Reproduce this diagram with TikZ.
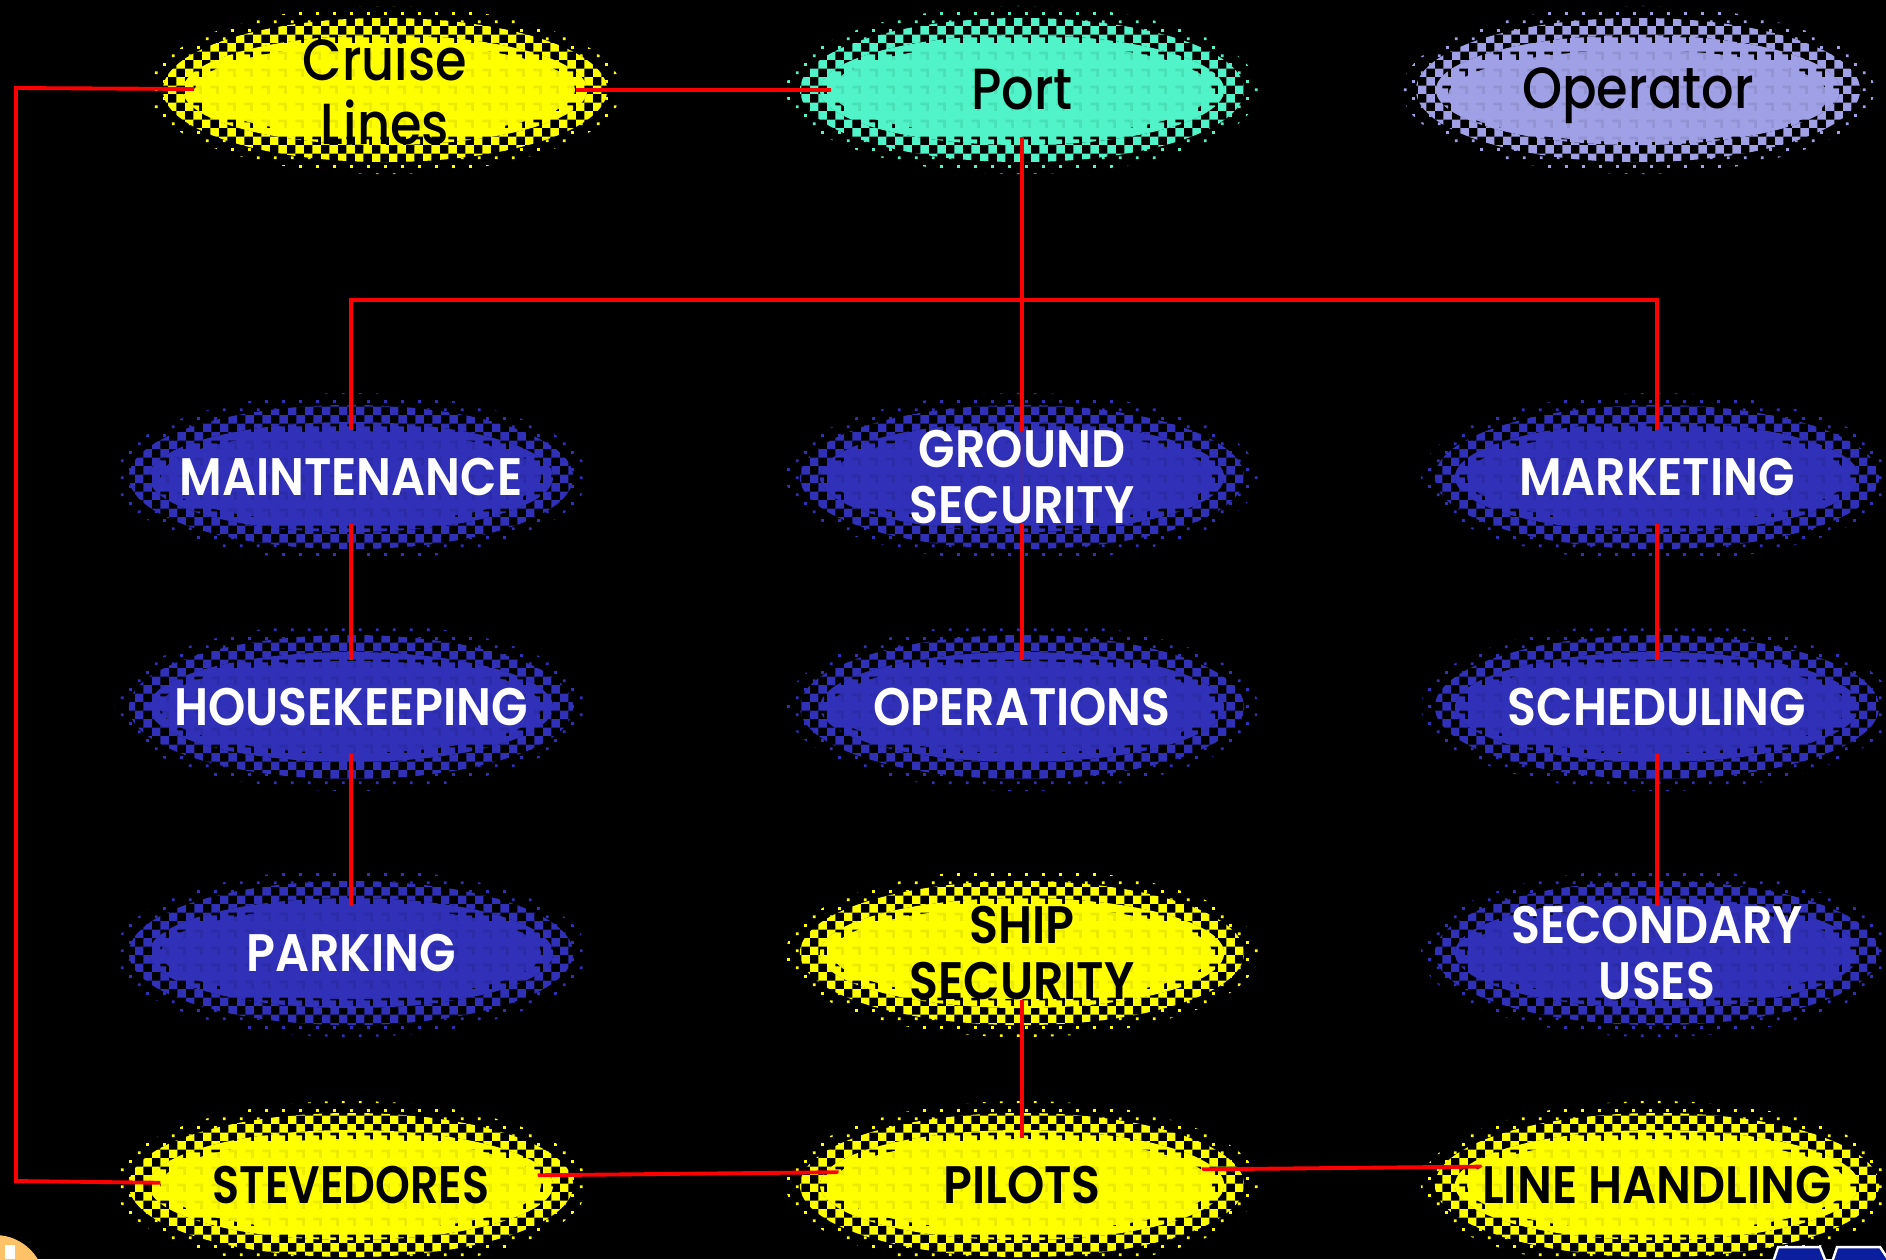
\documentclass[tikz,border=0pt]{standalone}
\usepackage{fontspec}
\setmainfont{Poppins}
\IfFontExistsTF{Poppins SemiBold}
  {\newfontfamily\capsfont{Poppins SemiBold}[FakeStretch=0.9]}
  {\newfontfamily\capsfont{Poppins}[FakeStretch=0.86,UprightFont=*,BoldFont=* Bold]\let\oldcaps\capsfont\def\capsfont{\oldcaps\bfseries}}
\IfFontExistsTF{Poppins Medium}
  {\newfontfamily\softfont{Poppins Medium}[FakeStretch=0.88]}
  {\newfontfamily\softfont{Poppins}[FakeStretch=0.88]}
\usetikzlibrary{shapes.geometric,patterns}

% halftone tiles for the fuzzy rims of the blobs
\pgfdeclarepatternformonly{chk}{\pgfpointorigin}{\pgfpoint{4.8pt}{4.8pt}}{\pgfpoint{4.8pt}{4.8pt}}{%
  \pgfpathrectangle{\pgfpointorigin}{\pgfpoint{2.4pt}{2.4pt}}%
  \pgfpathrectangle{\pgfpoint{2.4pt}{2.4pt}}{\pgfpoint{2.4pt}{2.4pt}}%
  \pgfusepath{fill}}
\pgfdeclarepatternformonly{speck}{\pgfpointorigin}{\pgfpoint{4.8pt}{4.8pt}}{\pgfpoint{4.8pt}{4.8pt}}{%
  \pgfpathrectangle{\pgfpoint{0.8pt}{0.8pt}}{\pgfpoint{0.8pt}{0.8pt}}%
  \pgfpathrectangle{\pgfpoint{3.2pt}{3.2pt}}{\pgfpoint{0.8pt}{0.8pt}}%
  \pgfusepath{fill}}
\pgfdeclarepatternformonly{dense}{\pgfpointorigin}{\pgfpoint{4.8pt}{4.8pt}}{\pgfpoint{4.8pt}{4.8pt}}{%
  \pgfpathrectangle{\pgfpointorigin}{\pgfpoint{2.4pt}{4.8pt}}%
  \pgfpathrectangle{\pgfpoint{2.4pt}{2.4pt}}{\pgfpoint{2.4pt}{2.4pt}}%
  \pgfpathrectangle{\pgfpoint{2.4pt}{0pt}}{\pgfpoint{1.6pt}{1.6pt}}%
  \pgfusepath{fill}}

\definecolor{sun}{HTML}{FFFF00}
\definecolor{aqua}{HTML}{50F4C8}
\definecolor{lilac}{HTML}{A0A0E6}
\definecolor{navy}{HTML}{3030B8}
\definecolor{wirered}{HTML}{FF0000}
\definecolor{badge}{HTML}{FFC266}
\definecolor{logoblue}{HTML}{0A1E9E}

\pgfdeclarelayer{halo}
\pgfdeclarelayer{wires}
\pgfsetlayers{halo,wires,main}

% fuzzy rim: specks outside, checkerboard, then a dense band next to the core
\newcommand\halo[3]{%
  \fill[pattern=speck, pattern color=#3, even odd rule]
    (#1,#2) ellipse [x radius=2.36cm, y radius=0.84cm]
    (#1,#2) ellipse [x radius=2.22cm, y radius=0.72cm];
  \fill[pattern=chk, pattern color=#3, even odd rule]
    (#1,#2) ellipse [x radius=2.22cm, y radius=0.72cm]
    (#1,#2) ellipse [x radius=2.02cm, y radius=0.55cm];
  \fill[pattern=dense, pattern color=#3]
    (#1,#2) ellipse [x radius=2.02cm, y radius=0.55cm];
}

\begin{document}
\begin{tikzpicture}[x=0.01cm, y=-0.01cm,
  core/.style={ellipse, fill=#1, fill opacity=0.92, text opacity=1,
    minimum width=3.8cm, minimum height=0.92cm,
    inner xsep=-1.6cm, inner ysep=-0.35cm, align=center},
  soft/.style={font=\softfont\fontsize{16.5}{18.2}\selectfont, text=black},
  capsw/.style={font=\capsfont\fontsize{15}{16}\selectfont, text=white},
  capsb/.style={font=\capsfont\fontsize{15}{16}\selectfont, text=black},
  wire/.style={draw=wirered, line width=1.1pt}]

\useasboundingbox (0,0) rectangle (1886,1259);

% nodes
\node[core=sun, soft]   (cruise) at (385,90)   {Cruise\\Lines};
\node[core=aqua, soft]  (port)   at (1022,90)  {Port};
\node[core=lilac, soft] (oper)   at (1638,96)  {Operator};

\node[core=navy, capsw] (maint) at (351,477)  {MAINTENANCE};
\node[core=navy, capsw] (gsec)  at (1022,477) {GROUND\\SECURITY};
\node[core=navy, capsw] (mark)  at (1657,477) {MARKETING};

\node[core=navy, capsw] (house) at (351,707)  {HOUSEKEEPING};
\node[core=navy, capsw] (ops)   at (1022,707) {OPERATIONS};
\node[core=navy, capsw] (sched) at (1657,707) {SCHEDULING};

\node[core=navy, capsw] (park)  at (351,953)  {PARKING};
\node[core=sun, capsb]  (ssec)  at (1022,953) {SHIP\\SECURITY};
\node[core=navy, capsw] (sec)   at (1657,953) {SECONDARY\\USES};

\node[core=sun, capsb]  (stev)  at (351,1185)  {\addfontfeature{FakeStretch=0.84}STEVEDORES};
\node[core=sun, capsb]  (pil)   at (1022,1185) {PILOTS};
\node[core=sun, capsb]  (line)  at (1657,1185) {LINE HANDLING};

\begin{pgfonlayer}{halo}
  \fill[black] (0,0) rectangle (1886,1259);
  \halo{385}{90}{sun}
  \halo{1022}{90}{aqua}
  \halo{1638}{90}{lilac}
  \halo{351}{477}{navy}
  \halo{1022}{477}{navy}
  \halo{1657}{477}{navy}
  \halo{351}{707}{navy}
  \halo{1022}{707}{navy}
  \halo{1657}{707}{navy}
  \halo{351}{953}{navy}
  \halo{1022}{953}{sun}
  \halo{1657}{953}{navy}
  \halo{351}{1185}{sun}
  \halo{1022}{1185}{sun}
  \halo{1657}{1185}{sun}
\end{pgfonlayer}

\coordinate (lt)  at (16,88);
\coordinate (lb)  at (16,1181);
\coordinate (bar) at (1022,300);

\begin{pgfonlayer}{wires}
  \draw[wire] (cruise) -- (port);
  \draw[wire] (cruise) -- (lt) -- (lb) -- (stev);
  \draw[wire] (port) -- (ops);
  \draw[wire] (maint) |- (bar) -| (mark);
  \draw[wire] (maint) -- (house);
  \draw[wire] (house) -- (park);
  \draw[wire] (mark) -- (sched);
  \draw[wire] (sched) -- (sec);
  \draw[wire] (ssec) -- (pil);
  \draw[wire] (stev.3) -- (pil.176);
  \draw[wire] (pil.5) -- (line.174);
\end{pgfonlayer}

% corner logo fragments
\fill[badge] (-5,1285) circle [radius=0.5cm];
\fill[white] (5,1245) rectangle (15,1259);
\filldraw[fill=logoblue, draw=white, line width=0.7pt]
  (1773,1262) -- (1778,1247) -- (1820,1247) -- (1826,1262) -- cycle;
\filldraw[fill=logoblue, draw=white, line width=0.7pt]
  (1832,1262) -- (1837,1247) -- (1880,1247) -- (1890,1262) -- cycle;
\end{tikzpicture}
\end{document}
